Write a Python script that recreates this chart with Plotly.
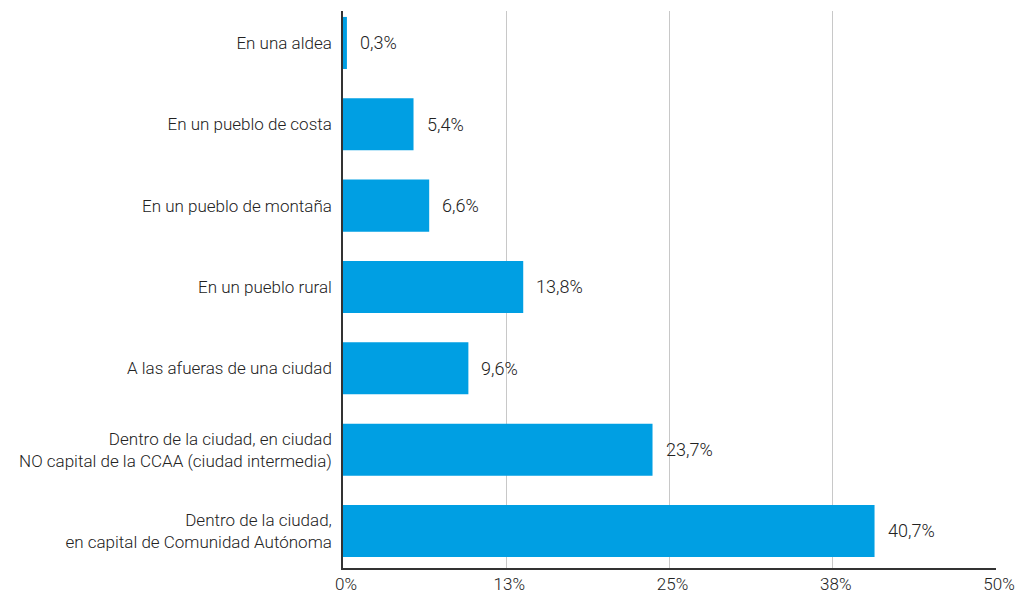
import plotly.graph_objects as go

categories = [
    "En una aldea",
    "En un pueblo de costa",
    "En un pueblo de montaña",
    "En un pueblo rural",
    "A las afueras de una ciudad",
    "Dentro de la ciudad, en ciudad<br>NO capital de la CCAA (ciudad intermedia)",
    "Dentro de la ciudad,<br>en capital de Comunidad Autónoma",
]
values = [0.3, 5.4, 6.6, 13.8, 9.6, 23.7, 40.7]
tick_vals = [0, 12.5, 25, 37.5, 50]
tick_text = ["0%", "13%", "25%", "38%", "50%"]

FONT = "Roboto, sans-serif"
TXT = "#222222"
FS = 18

fig = go.Figure()
fig.add_trace(go.Bar(
    x=values, y=categories, orientation="h",
    marker=dict(color="#009FE3", line=dict(width=0)),
    hoverinfo="skip",
))

annotations = []
for c, v in zip(categories, values):
    annotations.append(dict(
        x=v, y=c, xref="x", yref="y",
        text=f"{v:.1f}%".replace(".", ","),
        showarrow=False, xanchor="left", xshift=11,
        font=dict(family=FONT, size=FS, color=TXT, weight=300),
    ))

fig.update_layout(
    width=1015, height=585,
    margin=dict(l=335, r=27, t=3, b=25),
    paper_bgcolor="white", plot_bgcolor="white",
    bargap=0.36,
    showlegend=False,
    font=dict(family=FONT, size=FS, color=TXT, weight=300),
    annotations=annotations,
    xaxis=dict(
        range=[0, 50], tickvals=tick_vals, ticktext=tick_text,
        showgrid=True, gridcolor="#c8c8c8", gridwidth=1,
        showline=True, linecolor="#333333", linewidth=1.5,
        zeroline=False, ticks="", ticklabelshift=3, automargin=False,
        tickfont=dict(family=FONT, size=17, color=TXT, weight=300),
    ),
    yaxis=dict(
        range=[6.455, -0.393], automargin=False,
        showline=True, linecolor="#333333", linewidth=1.5,
        showgrid=False, ticks="", ticklabelstandoff=6,
        tickfont=dict(family=FONT, size=17, color=TXT, weight=300),
    ),
)

fig.write_html("out.html")
